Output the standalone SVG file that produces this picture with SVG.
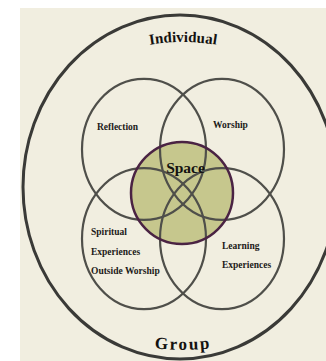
<svg xmlns="http://www.w3.org/2000/svg" width="326" height="361" viewBox="0 0 326 361">
<style>
.ring{fill:none;stroke:#4f4f4a;stroke-width:2.2}
.lbl{font-family:"Liberation Serif","DejaVu Serif",serif;font-weight:bold;font-size:9.5px;fill:#1c1a18}
.big{font-family:"Liberation Serif","DejaVu Serif",serif;font-weight:bold;fill:#141210}
</style>
<defs>
<path id="arcTop" d="M 138 47 A 206 206 0 0 1 228 47"/>
<path id="arcBot" d="M 130 345 A 300 300 0 0 0 236 345"/>
</defs>
<rect x="0" y="0" width="326" height="361" fill="#ffffff"/>
<rect x="20" y="8" width="306" height="353" fill="#f1eee0"/>
<g id="outer">
<ellipse cx="180" cy="187" rx="157" ry="172" fill="none" stroke="#3a3a37" stroke-width="3"/>
<text class="big" font-size="15"><textPath href="#arcTop" startOffset="50%" text-anchor="middle">Individual</textPath></text>
<text class="big" font-size="17" letter-spacing="1.8"><textPath href="#arcBot" startOffset="50%" text-anchor="middle">Group</textPath></text>
</g>
<g id="space-fill">
<circle cx="182" cy="193" r="51" fill="#c6c78d"/>
</g>
<g id="reflection">
<ellipse class="ring" cx="144" cy="149.3" rx="62" ry="70.5"/>
<text class="lbl" x="97" y="130">Reflection</text>
</g>
<g id="worship">
<ellipse class="ring" cx="222" cy="149.3" rx="62" ry="70.5"/>
<text class="lbl" x="213" y="128">Worship</text>
</g>
<g id="spiritual">
<ellipse class="ring" cx="144" cy="238.7" rx="62" ry="70.5"/>
<text class="lbl" x="91" y="235">Spiritual</text>
<text class="lbl" x="91" y="255">Experiences</text>
<text class="lbl" x="91" y="274">Outside Worship</text>
</g>
<g id="learning">
<ellipse class="ring" cx="222" cy="238.7" rx="62" ry="70.5"/>
<text class="lbl" x="222" y="249">Learning</text>
<text class="lbl" x="222" y="268">Experiences</text>
</g>
<g id="space">
<circle cx="182" cy="193" r="51" fill="none" stroke="#4a2343" stroke-width="2.5"/>
<text class="big" font-size="15.5" x="185.5" y="173" text-anchor="middle">Space</text>
</g>
<g id="connectors"/>
</svg>
